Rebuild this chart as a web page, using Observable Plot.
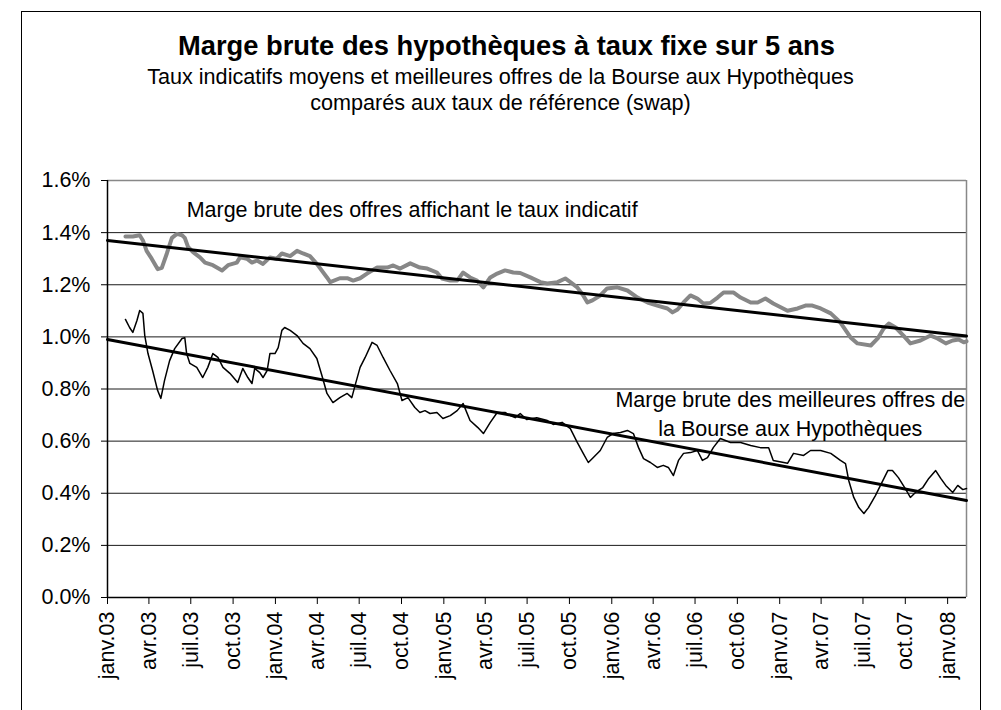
<!DOCTYPE html>
<html>
<head>
<meta charset="utf-8">
<script src="https://cdn.jsdelivr.net/npm/d3@7"></script>
<script src="https://cdn.jsdelivr.net/npm/@observablehq/plot@0.6"></script>
<style>
  html, body { margin: 0; padding: 0; background: #fff; }
  #wrap { position: relative; width: 1001px; height: 710px; overflow: hidden; font-family: "Liberation Sans", Arial, sans-serif; color: #000; }
  #frame { position: absolute; left: 21px; top: 11px; width: 960px; height: 720px; border: 1px solid #000; box-sizing: border-box; }
  .t { position: absolute; left: 0; width: 1001px; text-align: center; white-space: nowrap; }
  #title { top: 30px; font-size: 27.3px; font-weight: bold; left: 6px; }
  #sub1 { top: 64px; font-size: 21.6px; }
  #sub2 { top: 90px; font-size: 21.6px; }
  #chart { position: absolute; left: 0; top: 150px; }
</style>
</head>
<body>
<div id="wrap">
  <div id="frame"></div>
  <div class="t" id="title">Marge brute des hypothèques à taux fixe sur 5 ans</div>
  <div class="t" id="sub1">Taux indicatifs moyens et meilleures offres de la Bourse aux Hypothèques</div>
  <div class="t" id="sub2">comparés aux taux de référence (swap)</div>
  <div id="chart"></div>
</div>
<script>
// ---- Data ----
const indicatifDates = ["2003-02-09","2003-02-25","2003-03-12","2003-03-19","2003-03-27","2003-04-07","2003-04-20","2003-04-29","2003-05-10","2003-05-21","2003-06-01","2003-06-12","2003-06-18","2003-06-25","2003-07-06","2003-07-21","2003-08-01","2003-08-18","2003-09-07","2003-09-20","2003-10-09","2003-10-16","2003-10-31","2003-11-11","2003-11-22","2003-12-05","2003-12-20","2004-01-04","2004-01-15","2004-02-02","2004-02-17","2004-03-01","2004-03-16","2004-03-31","2004-04-22","2004-04-29","2004-05-20","2004-06-05","2004-06-18","2004-07-03","2004-07-18","2004-08-09","2004-08-31","2004-09-13","2004-09-28","2004-10-20","2004-11-10","2004-11-26","2004-12-17","2004-12-28","2005-01-15","2005-01-30","2005-02-12","2005-02-27","2005-03-14","2005-03-28","2005-04-12","2005-04-27","2005-05-14","2005-06-01","2005-06-16","2005-07-08","2005-07-30","2005-08-14","2005-09-05","2005-09-22","2005-10-03","2005-10-18","2005-10-31","2005-11-09","2005-11-20","2005-12-07","2005-12-22","2006-01-13","2006-02-04","2006-02-26","2006-03-20","2006-04-10","2006-05-02","2006-05-13","2006-05-24","2006-06-06","2006-06-21","2006-07-06","2006-07-19","2006-08-03","2006-08-19","2006-09-01","2006-09-23","2006-10-08","2006-10-30","2006-11-14","2006-12-01","2006-12-18","2007-01-18","2007-02-09","2007-02-26","2007-03-13","2007-03-31","2007-04-22","2007-05-13","2007-06-04","2007-06-19","2007-07-18","2007-08-02","2007-08-15","2007-08-26","2007-09-10","2007-09-27","2007-10-12","2007-11-03","2007-11-25","2007-12-10","2007-12-28","2008-01-12","2008-01-25","2008-02-05","2008-02-11"];
const indicatifValues = [1.385,1.385,1.39,1.37,1.33,1.30,1.26,1.265,1.32,1.38,1.395,1.39,1.38,1.345,1.325,1.305,1.285,1.275,1.255,1.275,1.285,1.305,1.30,1.285,1.293,1.28,1.305,1.30,1.32,1.31,1.33,1.32,1.31,1.28,1.228,1.21,1.225,1.225,1.216,1.225,1.243,1.266,1.266,1.274,1.262,1.282,1.266,1.262,1.247,1.224,1.216,1.216,1.247,1.228,1.216,1.19,1.228,1.243,1.255,1.247,1.245,1.228,1.21,1.205,1.21,1.224,1.21,1.19,1.159,1.132,1.14,1.159,1.186,1.19,1.178,1.151,1.132,1.12,1.109,1.094,1.105,1.132,1.159,1.147,1.128,1.13,1.151,1.17,1.17,1.151,1.132,1.132,1.147,1.128,1.10,1.109,1.12,1.12,1.109,1.09,1.055,0.998,0.975,0.967,0.994,1.032,1.051,1.036,1.005,0.975,0.986,1.005,0.994,0.975,0.986,0.99,0.979,0.983];

const bourseDates = ["2003-02-09","2003-02-18","2003-02-25","2003-03-06","2003-03-12","2003-03-19","2003-03-23","2003-03-30","2003-04-09","2003-04-20","2003-04-27","2003-05-05","2003-05-16","2003-05-27","2003-06-12","2003-06-18","2003-06-22","2003-06-29","2003-07-14","2003-07-27","2003-08-07","2003-08-18","2003-08-29","2003-09-09","2003-09-24","2003-10-11","2003-10-22","2003-11-02","2003-11-11","2003-11-17","2003-11-28","2003-12-05","2003-12-14","2003-12-20","2003-12-31","2004-01-07","2004-01-15","2004-01-21","2004-02-02","2004-02-17","2004-03-01","2004-03-16","2004-03-31","2004-04-11","2004-04-22","2004-05-05","2004-05-20","2004-06-05","2004-06-15","2004-06-22","2004-07-03","2004-07-14","2004-07-29","2004-08-09","2004-08-22","2004-09-06","2004-09-22","2004-10-02","2004-10-15","2004-10-30","2004-11-10","2004-11-21","2004-12-02","2004-12-17","2004-12-30","2005-01-15","2005-01-30","2005-02-12","2005-02-27","2005-03-16","2005-03-28","2005-04-12","2005-04-27","2005-05-14","2005-05-25","2005-06-05","2005-06-16","2005-06-30","2005-07-22","2005-08-14","2005-08-27","2005-09-15","2005-10-03","2005-10-18","2005-10-31","2005-11-11","2005-11-22","2005-12-07","2005-12-22","2006-01-04","2006-01-20","2006-02-04","2006-02-17","2006-02-28","2006-03-11","2006-03-26","2006-04-10","2006-04-23","2006-05-04","2006-05-15","2006-05-26","2006-06-06","2006-06-21","2006-07-06","2006-07-17","2006-07-28","2006-08-10","2006-08-25","2006-09-16","2006-10-08","2006-10-30","2006-11-20","2006-12-08","2006-12-18","2007-01-07","2007-01-18","2007-01-31","2007-02-22","2007-03-09","2007-03-31","2007-04-22","2007-05-13","2007-05-24","2007-05-31","2007-06-11","2007-06-22","2007-07-03","2007-07-13","2007-07-28","2007-08-08","2007-08-24","2007-09-03","2007-09-16","2007-10-01","2007-10-12","2007-10-23","2007-11-08","2007-11-21","2007-12-06","2007-12-17","2007-12-28","2008-01-12","2008-01-23","2008-02-03","2008-02-11"];
const bourseValues = [1.067,1.036,1.017,1.063,1.101,1.09,1.005,0.936,0.871,0.794,0.764,0.833,0.909,0.955,0.994,0.997,0.936,0.898,0.883,0.844,0.883,0.936,0.921,0.883,0.86,0.825,0.879,0.844,0.821,0.879,0.863,0.844,0.871,0.936,0.936,0.959,1.025,1.036,1.025,1.005,0.975,0.955,0.917,0.852,0.783,0.748,0.767,0.783,0.767,0.813,0.883,0.921,0.979,0.967,0.921,0.871,0.821,0.756,0.767,0.729,0.71,0.717,0.706,0.71,0.687,0.698,0.717,0.744,0.679,0.652,0.629,0.672,0.71,0.71,0.698,0.69,0.706,0.683,0.69,0.679,0.664,0.672,0.648,0.595,0.553,0.518,0.537,0.564,0.614,0.629,0.633,0.641,0.629,0.576,0.533,0.518,0.499,0.507,0.499,0.468,0.526,0.553,0.556,0.564,0.526,0.537,0.576,0.61,0.595,0.595,0.583,0.575,0.575,0.526,0.519,0.515,0.553,0.545,0.564,0.564,0.553,0.526,0.514,0.449,0.384,0.345,0.322,0.345,0.391,0.43,0.487,0.487,0.46,0.418,0.384,0.403,0.422,0.457,0.487,0.457,0.43,0.403,0.43,0.414,0.418];

// linear trends (start / end of the period)
const trendDates = ["2003-01-01","2008-02-11"];
const trendIndicatif = [1.37, 1.003];
const trendBourse = [0.99, 0.372];

// axes
const yTicks = [0, 0.2, 0.4, 0.6, 0.8, 1.0, 1.2, 1.4, 1.6];
const xTickDates = ["2003-01-01","2003-04-01","2003-07-01","2003-10-01","2004-01-01","2004-04-01","2004-07-01","2004-10-01","2005-01-01","2005-04-01","2005-07-01","2005-10-01","2006-01-01","2006-04-01","2006-07-01","2006-10-01","2007-01-01","2007-04-01","2007-07-01","2007-10-01","2008-01-01"];
const xTickLabels = ["janv.03","avr.03","juil.03","oct.03","janv.04","avr.04","juil.04","oct.04","janv.05","avr.05","juil.05","oct.05","janv.06","avr.06","juil.06","oct.06","janv.07","avr.07","juil.07","oct.07","janv.08"];
const xDomain = ["2003-01-01","2008-02-11"];

// annotations
const noteTopText = ["Marge brute des offres affichant le taux indicatif"];
const noteTopDate = ["2003-06-22"];
const noteTopValue = [1.485];
const noteLowTexts = ["Marge brute des meilleures offres de", "la Bourse aux Hypothèques"];
const noteLowDates = ["2007-01-24", "2007-01-24"];
const noteLowValues = [0.756, 0.645];

// ---- Build ----
const P = s => new Date(s + "T00:00:00Z");
const indicatif = indicatifDates.map((d, i) => ({date: P(d), v: indicatifValues[i]}));
const bourse = bourseDates.map((d, i) => ({date: P(d), v: bourseValues[i]}));
const trendA = trendDates.map((d, i) => ({date: P(d), v: trendIndicatif[i]}));
const trendB = trendDates.map((d, i) => ({date: P(d), v: trendBourse[i]}));
const noteTop = noteTopText.map((t, i) => ({text: t, date: P(noteTopDate[i]), v: noteTopValue[i]}));
const noteLow = noteLowTexts.map((t, i) => ({text: t, date: P(noteLowDates[i]), v: noteLowValues[i]}));
const tickMap = new Map(xTickDates.map((d, i) => [+P(d), xTickLabels[i]]));
const x0 = P(xDomain[0]), x1 = P(xDomain[1]);

const chart = Plot.plot({
  width: 1001,
  height: 557,
  marginLeft: 107,
  marginRight: 35,
  marginTop: 30,
  marginBottom: 110,
  style: {fontFamily: "'Liberation Sans', Arial, sans-serif", fontSize: "21.5px", background: "transparent", overflow: "visible", color: "#000"},
  x: {type: "utc", domain: [x0, x1]},
  y: {domain: [0, 1.6]},
  marks: [
    Plot.ruleY(yTicks.filter(t => t > 0 && t < 1.6), {stroke: "#1a1a1a", strokeWidth: 1}),
    Plot.ruleY([1.6], {stroke: "#888", strokeWidth: 1.5}),
    Plot.ruleX([x1], {stroke: "#888", strokeWidth: 1.5}),
    Plot.line(indicatif, {x: "date", y: "v", stroke: "#878787", strokeWidth: 4, strokeLinejoin: "round"}),
    Plot.line(bourse, {x: "date", y: "v", stroke: "#000", strokeWidth: 1.5}),
    Plot.line(trendA, {x: "date", y: "v", stroke: "#000", strokeWidth: 3}),
    Plot.line(trendB, {x: "date", y: "v", stroke: "#000", strokeWidth: 3}),
    Plot.text(noteTop, {x: "date", y: "v", text: "text", textAnchor: "start", fontSize: 21.5, fill: "#000"}),
    Plot.text(noteLow, {x: "date", y: "v", text: "text", textAnchor: "middle", fontSize: 21.5, fill: "#000"}),
    Plot.ruleY([0], {stroke: "#000", strokeWidth: 1.5}),
    Plot.ruleX([x0], {stroke: "#000", strokeWidth: 1.5}),
    Plot.axisY({ticks: yTicks, tickFormat: d => d.toFixed(1) + "%", tickSize: 6, tickPadding: 11, label: null, fontSize: 21.5}),
    Plot.axisX({ticks: xTickDates.map(P), tickFormat: d => tickMap.get(+d), tickRotate: -90, tickSize: 7, tickPadding: 7, label: null, fontSize: 21.5})
  ]
});
document.getElementById("chart").appendChild(chart);
</script>
</body>
</html>
